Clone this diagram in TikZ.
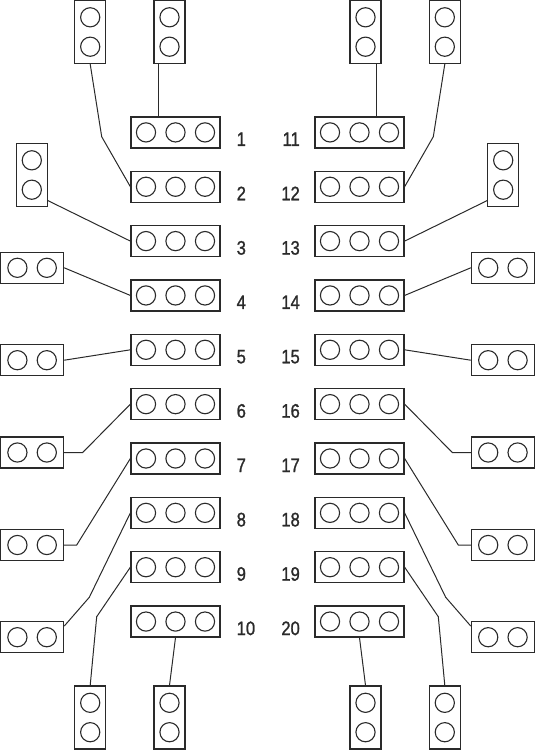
\documentclass[tikz,border=0pt]{standalone}
\usepackage{fontspec}
\setmainfont{Liberation Sans}[FakeStretch=0.85,FakeBold=1.2]
\usetikzlibrary{calc}
\definecolor{ink}{HTML}{2A2A2A}
\begin{document}
\begin{tikzpicture}[x=1pt,y=-1pt,
  box/.style={draw=ink, line width=1.25pt, inner sep=0pt, fill=white},
  trip/.style={box, minimum width=89pt, minimum height=31pt,
    path picture={
      \foreach \dx in {-29.5,0,29.5}
        \draw[ink, line width=1.1pt] ([xshift=\dx pt]path picture bounding box.center) circle (9.6pt);}},
  vpair/.style={box, minimum width=31pt, minimum height=63pt,
    path picture={
      \foreach \dy in {-14.7,14.7}
        \draw[ink, line width=1.1pt] ([yshift=\dy pt]path picture bounding box.center) circle (9.6pt);}},
  hpair/.style={box, minimum width=63pt, minimum height=31pt,
    path picture={
      \foreach \dx in {-14.7,14.7}
        \draw[ink, line width=1.1pt] ([xshift=\dx pt]path picture bounding box.center) circle (9.6pt);}},
  wire/.style={draw=ink, line width=1pt},
  lbl/.style={inner sep=0pt, text=ink, font=\fontsize{19.5}{20}\selectfont}
]
\useasboundingbox (0,0) rectangle (535,750);

% central triple boxes and labels
\foreach \i in {1,...,10}{
  \pgfmathsetmacro{\yy}{132.4+(\i-1)*54.35}
  \node[trip] (L\i) at (175.5,\yy) {};
  \pgfmathtruncatemacro{\j}{\i+10}
  \node[trip] (R\j) at (359.5,\yy) {};
  \node[lbl, anchor=base west] (nl\i) at (236.5,\yy+13.5) {\i};
  \node[lbl, anchor=base east] (nr\j) at (300,\yy+13.5) {\j};
}

% vertical pair boxes top / bottom
\node[vpair] (TA) at (90.2,32) {};
\node[vpair] (TB) at (169.5,32) {};
\node[vpair] (TC) at (365.5,32) {};
\node[vpair] (TD) at (444.8,32) {};
\node[vpair] (BA) at (90.2,717.5) {};
\node[vpair] (BB) at (169.5,717.5) {};
\node[vpair] (BC) at (365.5,717.5) {};
\node[vpair] (BD) at (444.8,717.5) {};
% side vertical pairs
\node[vpair] (SL) at (31.8,175) {};
\node[vpair] (SR) at (503.2,175) {};
% horizontal pairs
\node[hpair] (HL4) at (32.1,267.8) {};
\node[hpair] (HL5) at (32.1,360.2) {};
\node[hpair] (HL6) at (32.1,452.5) {};
\node[hpair] (HL7) at (32.1,545) {};
\node[hpair] (HL8) at (32.1,637.2) {};
\node[hpair] (HR14) at (502.9,267.8) {};
\node[hpair] (HR15) at (502.9,360.2) {};
\node[hpair] (HR16) at (502.9,452.5) {};
\node[hpair] (HR17) at (502.9,545) {};
\node[hpair] (HR18) at (502.9,637.2) {};

% bend points
\coordinate (k2) at (101.7,136.7);
\coordinate (k12) at (433.3,136.7);
\coordinate (k6) at (82.7,452.5);
\coordinate (k16) at (452.3,452.5);
\coordinate (k7) at (76.7,545);
\coordinate (k17) at (458.3,545);
\coordinate (k8) at (89.3,597.3);
\coordinate (k18) at (445.7,597.3);
\coordinate (k9) at (96.7,616.7);
\coordinate (k19) at (438.3,616.7);

% connectors left
\draw[wire] ([xshift=-11.2pt]TB.south) -- ([xshift=-11.2pt]TB.south |- L1.north);
\draw[wire] (TA.south) -- (k2) -- (L2.west);
\draw[wire] ([yshift=6.5pt]SL.south east) -- (L3.west);
\draw[wire] (HL4.east) -- (L4.west);
\draw[wire] (HL5.east) -- (L5.west);
\draw[wire] (HL6.east) -- (k6) -- (L6.west);
\draw[wire] (HL7.east) -- (k7) -- (L7.west);
\draw[wire] ([yshift=-5pt]HL8.north east) -- (k8) -- (L8.west);
\draw[wire] (BA.north) -- (k9) -- (L9.west);
\draw[wire] (L10.south) -- (BB.north);

% connectors right
\draw[wire] ([xshift=11.2pt]TC.south) -- ([xshift=11.2pt]TC.south |- R11.north);
\draw[wire] (TD.south) -- (k12) -- (R12.east);
\draw[wire] ([yshift=6.5pt]SR.south west) -- (R13.east);
\draw[wire] (HR14.west) -- (R14.east);
\draw[wire] (HR15.west) -- (R15.east);
\draw[wire] (HR16.west) -- (k16) -- (R16.east);
\draw[wire] (HR17.west) -- (k17) -- (R17.east);
\draw[wire] ([yshift=-5pt]HR18.north west) -- (k18) -- (R18.east);
\draw[wire] (BD.north) -- (k19) -- (R19.east);
\draw[wire] (R20.south) -- (BC.north);
\end{tikzpicture}
\end{document}
